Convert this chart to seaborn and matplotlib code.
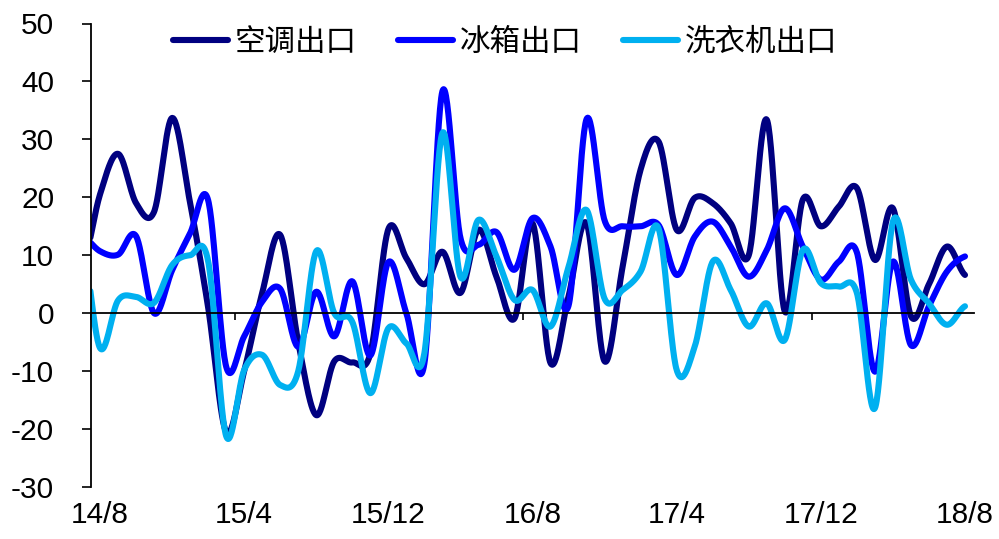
import numpy as np
import pandas as pd
import matplotlib
matplotlib.use("Agg")
import matplotlib.pyplot as plt
import matplotlib.transforms as mtransforms
import seaborn as sns

# Monthly year-on-year export growth (%), 2014/7 - 2018/8
months = pd.period_range("2014-07", "2018-08", freq="M")
month_labels = [f"{p.year % 100}/{p.month}" for p in months]

series_names = ["空调出口", "冰箱出口", "洗衣机出口"]

aircon = [7.5, 20.5, 27.5, 19.0, 17.5, 33.7, 19.0, 1.0, -20.5, -10.0,
          3.5, 13.5, -5.0, -17.6, -8.3, -8.5, -7.0, 14.5, 9.5, 5.0,
          10.6, 3.5, 14.4, 6.3, -0.9, 15.5, -8.6, 2.9, 15.5, -8.3,
          8.0, 24.8, 29.6, 14.4, 19.9, 19.0, 15.5, 10.0, 33.4, 0.3,
          19.6, 15.0, 18.4, 21.6, 9.2, 18.1, -0.5, 5.0, 11.5, 6.6]

fridge = [13.4, 10.7, 10.1, 13.3, 0.0, 7.4, 13.8, 19.5, -9.2, -4.0,
          2.0, 4.2, -5.8, 3.7, -4.0, 5.5, -7.3, 8.8, 0.0, -8.7,
          38.3, 13.0, 11.8, 14.0, 7.5, 16.4, 11.5, 1.3, 33.5, 16.0,
          15.0, 15.0, 15.2, 6.6, 13.2, 15.8, 11.5, 6.3, 10.9, 18.1,
          11.5, 5.8, 8.9, 10.5, -10.1, 8.9, -5.5, 1.2, 7.2, 9.8]

washer = [13.0, -6.0, 2.2, 2.8, 1.8, 8.3, 10.0, 9.0, -21.2, -9.8,
          -7.2, -12.4, -10.0, 10.7, 0.0, -1.5, -13.8, -2.6, -5.2, -6.9,
          31.1, 6.3, 16.1, 9.8, 2.3, 4.0, -2.3, 8.0, 17.8, 2.5,
          4.0, 7.2, 14.6, -9.8, -5.8, 8.9, 4.0, -2.3, 1.7, -4.6,
          10.9, 5.2, 4.6, 3.5, -16.4, 15.8, 5.8, 1.7, -2.0, 1.2]

colors = ["#000080", "#0000FF", "#00B0F0"]

# month index: 2014/8 sits at 0
x_idx = np.arange(len(months)) - 1


def smooth_curve(x, y, n=30):
    """Catmull-Rom spline through the monthly points (smoothed line style)."""
    x = np.asarray(x, float)
    y = np.asarray(y, float)
    p = np.concatenate([[y[0]], y, [y[-1]]])
    m = (p[2:] - p[:-2]) / 2.0
    t = np.linspace(0, 1, n, endpoint=False)
    h00 = 2 * t**3 - 3 * t**2 + 1
    h10 = t**3 - 2 * t**2 + t
    h01 = -2 * t**3 + 3 * t**2
    h11 = t**3 - t**2
    xs, ys = [], []
    for i in range(len(y) - 1):
        xs.append(x[i] + t * (x[i + 1] - x[i]))
        ys.append(h00 * y[i] + h10 * m[i] + h01 * y[i + 1] + h11 * m[i + 1])
    xs.append([x[-1]])
    ys.append([y[-1]])
    return np.concatenate(xs), np.concatenate(ys)


frames = []
for name, vals in zip(series_names, [aircon, fridge, washer]):
    xs, ys = smooth_curve(x_idx, vals)
    frames.append(pd.DataFrame({"month": xs, "growth": ys, "series": name}))
df = pd.concat(frames, ignore_index=True)

plt.rcParams["font.family"] = ["Liberation Sans", "Noto Sans CJK SC", "DejaVu Sans"]
plt.rcParams["axes.unicode_minus"] = False

fig = plt.figure(figsize=(9.99, 5.39), dpi=100)
ax = fig.add_axes([91 / 999, 1 - 487 / 539, (974 - 91) / 999, (487 - 23.5) / 539])

sns.lineplot(data=df, x="month", y="growth", hue="series",
             hue_order=series_names, palette=colors, sort=False,
             estimator=None, linewidth=4.4, solid_capstyle="round",
             ax=ax, legend=True)

ax.set_xlim(-0.5, 48.5)
ax.set_ylim(-30, 50)
ax.set_xlabel("")
ax.set_ylabel("")

for side in ["top", "right"]:
    ax.spines[side].set_visible(False)
ax.spines["left"].set_linewidth(1.3)
ax.spines["bottom"].set_position(("data", 0))
ax.spines["bottom"].set_linewidth(1.3)

ax.set_yticks(np.arange(-30, 51, 10))
ax.tick_params(axis="y", direction="out", length=6.5, width=1.2,
               pad=20, labelsize=21.5)
ax.set_xticks(np.arange(-0.5, 48, 8))
ax.set_xticklabels([])
ax.tick_params(axis="x", direction="out", length=5, width=1.2)

# month labels under the plot area
trans = mtransforms.blended_transform_factory(ax.transData, ax.transAxes)
for i in range(0, 49, 8):
    ax.text(i, -0.06, month_labels[i + 1], transform=trans,
            ha="center", va="center", fontsize=21.5)

handles, labels = ax.get_legend_handles_labels()
ax.legend(handles, labels, loc="center left",
          bbox_to_anchor=(173 / 999, 1 - 42 / 539), bbox_transform=fig.transFigure,
          ncol=3, frameon=False, borderpad=0, borderaxespad=0,
          handlelength=1.8, handletextpad=0.22, columnspacing=1.35,
          prop={"family": ["Noto Sans CJK SC"], "size": 22})

fig.savefig("out.png", dpi=100)
